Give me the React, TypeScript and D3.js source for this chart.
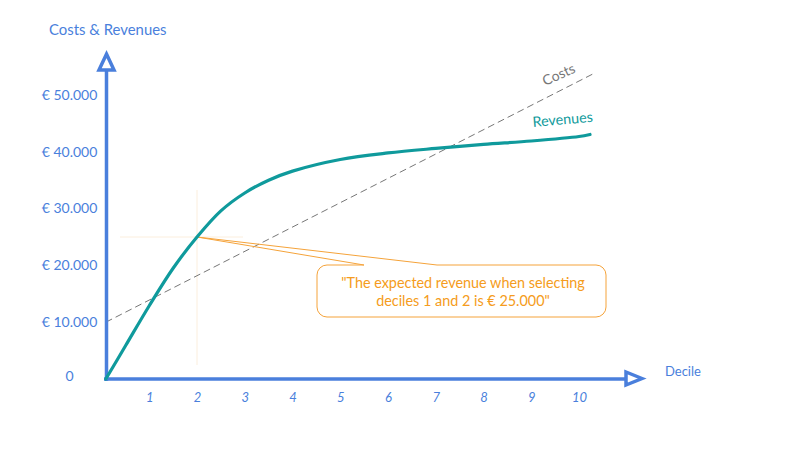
import { useEffect, useRef } from 'react'
import * as d3 from 'd3'

const deciles = [0.09, 0.5, 1, 1.5, 2, 2.5, 3, 3.5, 4, 5, 6, 7, 8, 9, 10, 10.23]
const revenues = [0, 5800, 12900, 19500, 25000, 29600, 32750, 35000, 36600, 38650, 39800, 40600, 41300, 41900, 42700, 43050]
const costDeciles = [0.09, 10.29]
const costs = [10000, 53700]
const xTicks = [1, 2, 3, 4, 5, 6, 7, 8, 9, 10]
const yTicks = [0, 10000, 20000, 30000, 40000, 50000]
const yTickLabels = ['0', '€ 10.000', '€ 20.000', '€ 30.000', '€ 40.000', '€ 50.000']
const calloutLines = ['"The expected revenue when selecting', 'deciles 1 and 2 is € 25.000"']

const BLUE = '#4a7fdc'
const TEAL = '#0f9a9c'
const ORANGE = '#f5a33a'
const ORANGE_TEXT = '#f59c20'
const GREY = '#777777'
const FONT = '"Lato", "Noto Sans", sans-serif'

export default function App() {
  const svgRef = useRef<SVGSVGElement>(null)

  useEffect(() => {
    if (!svgRef.current) return

    const svg = d3.select(svgRef.current)
    svg.selectAll('*').remove()
    svg.style('font-family', FONT)

    const x = d3.scaleLinear().domain([0, 10]).range([101.5, 579])
    const y = d3.scaleLinear().domain([0, 50000]).range([379, 95])
    const axisX = 106.5

    // Expected revenue guides
    const guide = '#fbeedd'
    svg.append('line').attr('x1', x(2)).attr('x2', x(2)).attr('y1', 190).attr('y2', 365)
      .attr('stroke', guide).attr('stroke-width', 1)
    svg.append('line').attr('x1', 120).attr('x2', 243).attr('y1', y(25000)).attr('y2', y(25000))
      .attr('stroke', guide).attr('stroke-width', 1)

    // Costs
    const costLine = d3.line<number>()
      .x((_, i) => x(costDeciles[i]))
      .y(d => y(d))
    svg.append('path')
      .datum(costs)
      .attr('fill', 'none')
      .attr('stroke', GREY)
      .attr('stroke-width', 1)
      .attr('stroke-dasharray', '7 4')
      .attr('d', costLine)

    // Axes
    const xAxis = svg.append('g')
      .attr('transform', `translate(0,${y(0)})`)
      .call(d3.axisBottom(x).tickValues(xTicks).tickSize(0).tickPadding(14).tickFormat(d3.format('d') as any))
    xAxis.select('.domain').remove()
    xAxis.selectAll('text')
      .style('fill', BLUE)
      .style('font-size', '13px')
      .style('font-style', 'italic')
      .style('font-family', FONT)

    const yAxis = svg.append('g')
      .attr('transform', `translate(${axisX},0)`)
      .call(d3.axisLeft(y).tickValues(yTicks).tickSize(0).tickFormat((_, i) => yTickLabels[i]))
    yAxis.select('.domain').remove()
    yAxis.selectAll('text')
      .attr('x', -37)
      .attr('dy', (_, i) => (i === 0 ? '0.1em' : '0.3em'))
      .style('text-anchor', 'middle')
      .style('fill', BLUE)
      .style('font-size', '14px')
      .style('font-family', FONT)

    svg.append('line').attr('x1', axisX).attr('x2', axisX).attr('y1', 70).attr('y2', 381)
      .attr('stroke', BLUE).attr('stroke-width', 3.5)
    svg.append('path')
      .attr('d', `M${axisX},54 L114,70 L99,70 Z`)
      .attr('fill', '#fff').attr('stroke', BLUE).attr('stroke-width', 3.5)

    svg.append('line').attr('x1', 104).attr('x2', 626).attr('y1', y(0)).attr('y2', y(0))
      .attr('stroke', BLUE).attr('stroke-width', 3.5)
    svg.append('path')
      .attr('d', 'M642,378.5 L626,372 L626,385 Z')
      .attr('fill', '#fff').attr('stroke', BLUE).attr('stroke-width', 3.5)

    // Callout with its tail pointing at decile 2
    const tipX = x(2)
    const tipY = y(25000)
    const box = d3.path()
    box.moveTo(tipX, tipY)
    box.lineTo(437, 265)
    box.lineTo(596, 265)
    box.arcTo(606, 265, 606, 275, 10)
    box.lineTo(606, 307)
    box.arcTo(606, 317, 596, 317, 10)
    box.lineTo(327, 317)
    box.arcTo(317, 317, 317, 307, 10)
    box.lineTo(317, 275)
    box.arcTo(317, 265, 327, 265, 10)
    box.lineTo(364, 265)
    box.closePath()
    svg.append('path')
      .attr('d', box.toString())
      .attr('fill', 'none')
      .attr('stroke', ORANGE)
      .attr('stroke-width', 1)

    svg.selectAll('.callout-text')
      .data(calloutLines)
      .enter().append('text')
      .attr('class', 'callout-text')
      .attr('x', 463)
      .attr('y', (_, i) => 288 + i * 18)
      .style('text-anchor', 'middle')
      .style('font-size', '14.4px')
      .style('fill', ORANGE_TEXT)
      .text(d => d)

    // Revenues
    const revenueLine = d3.line<number>()
      .x((_, i) => x(deciles[i]))
      .y(d => y(d))
      .curve(d3.curveCatmullRom.alpha(0.5))
    svg.append('path')
      .datum(revenues)
      .attr('fill', 'none')
      .attr('stroke', TEAL)
      .attr('stroke-width', 3.2)
      .attr('stroke-linecap', 'round')
      .attr('d', revenueLine)

    // Labels
    svg.append('text').attr('x', 49).attr('y', 35)
      .style('font-size', '14.9px').style('fill', BLUE).text('Costs & Revenues')
    svg.append('text').attr('x', 665).attr('y', 376)
      .style('font-size', '13px').style('fill', BLUE).text('Decile')
    svg.append('text')
      .attr('transform', 'translate(545,86) rotate(-24)')
      .style('font-size', '14px').style('fill', GREY).text('Costs')
    svg.append('text')
      .attr('transform', 'translate(533,127) rotate(-5)')
      .style('font-size', '14.3px').style('fill', TEAL).text('Revenues')
  }, [])

  return (
    <svg
      ref={svgRef}
      width={800}
      height={450}
      style={{ position: 'absolute', left: 0, top: 0, background: '#fff' }}
    />
  )
}
